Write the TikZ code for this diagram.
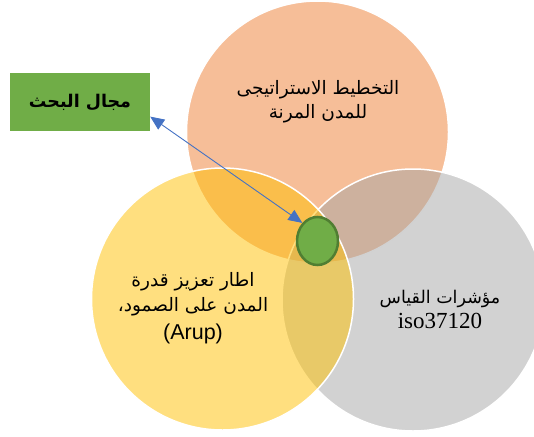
\documentclass[tikz,border=0pt]{standalone}
\usepackage{fontspec}
\setmainfont{Liberation Serif}
\newfontfamily\arabicfont[Script=Arabic]{DejaVu Sans}
\newfontfamily\arialfont{Liberation Sans}
\TeXXeTstate=1
\usetikzlibrary{shapes.geometric,arrows.meta,calc}
\definecolor{vennorange}{HTML}{ED7D31}
\definecolor{venngray}{HTML}{A5A5A5}
\definecolor{vennyellow}{HTML}{FFC000}
\definecolor{boxgreen}{HTML}{70AD47}
\definecolor{darkgreen}{HTML}{507E32}
\definecolor{arrowblue}{HTML}{4472C4}
\tikzset{
  venn/.style={circle, minimum size=262pt, inner sep=0pt, fill opacity=0.5, draw=white, draw opacity=1, line width=1.5pt},
  lbl/.style={align=center, inner sep=0pt, text=black},
  vtip/.tip={Triangle[length=14pt,width=12pt]}
}
\begin{document}
\begin{tikzpicture}[x=1pt,y=-1pt]
\useasboundingbox (0,0) rectangle (534,436);
\node[venn, fill=vennorange] (ctop) at (317.5,132) {};
\node[venn, fill=venngray] (cright) at (413,300) {};
\node[venn, fill=vennyellow] (cleft) at (222.5,299) {};
\node[lbl, font=\arabicfont\fontsize{18.5}{24}\selectfont] (ttop) at (318,102)
  {\beginR التخطيط الاستراتيجى\endR\\ \beginR للمدن المرنة\endR};
\node[lbl, font=\arabicfont\fontsize{18.5}{25}\selectfont] (tleft) at (193,308)
  {\beginR اطار تعزيز قدرة\endR\\
   \beginR المدن على الصمود،\endR\\[3pt]
   {\arialfont\fontsize{21.5}{25}\selectfont (Arup)}};
\node[lbl, font=\arabicfont\fontsize{17.5}{25}\selectfont] (tright) at (440,309)
  {\beginR مؤشرات القياس\endR\\
   {\rmfamily\fontsize{23}{25}\selectfont iso37120}};
\node[ellipse, fill=boxgreen, draw=darkgreen, line width=2.5pt, minimum width=41pt, minimum height=48pt, inner sep=0pt] (ell) at (317.5,241) {};
\node[rectangle, fill=boxgreen, minimum width=140pt, minimum height=58pt, inner sep=0pt,
  font=\arabicfont\bfseries\fontsize{17.5}{20}\selectfont] (box) at (80,102) {\beginR مجال البحث\endR};
\draw[arrowblue, line width=0.9pt, {vtip}-{vtip}] ($(box.east)!0.5!(box.south east)$) -- (ell.130);
\end{tikzpicture}
\end{document}
